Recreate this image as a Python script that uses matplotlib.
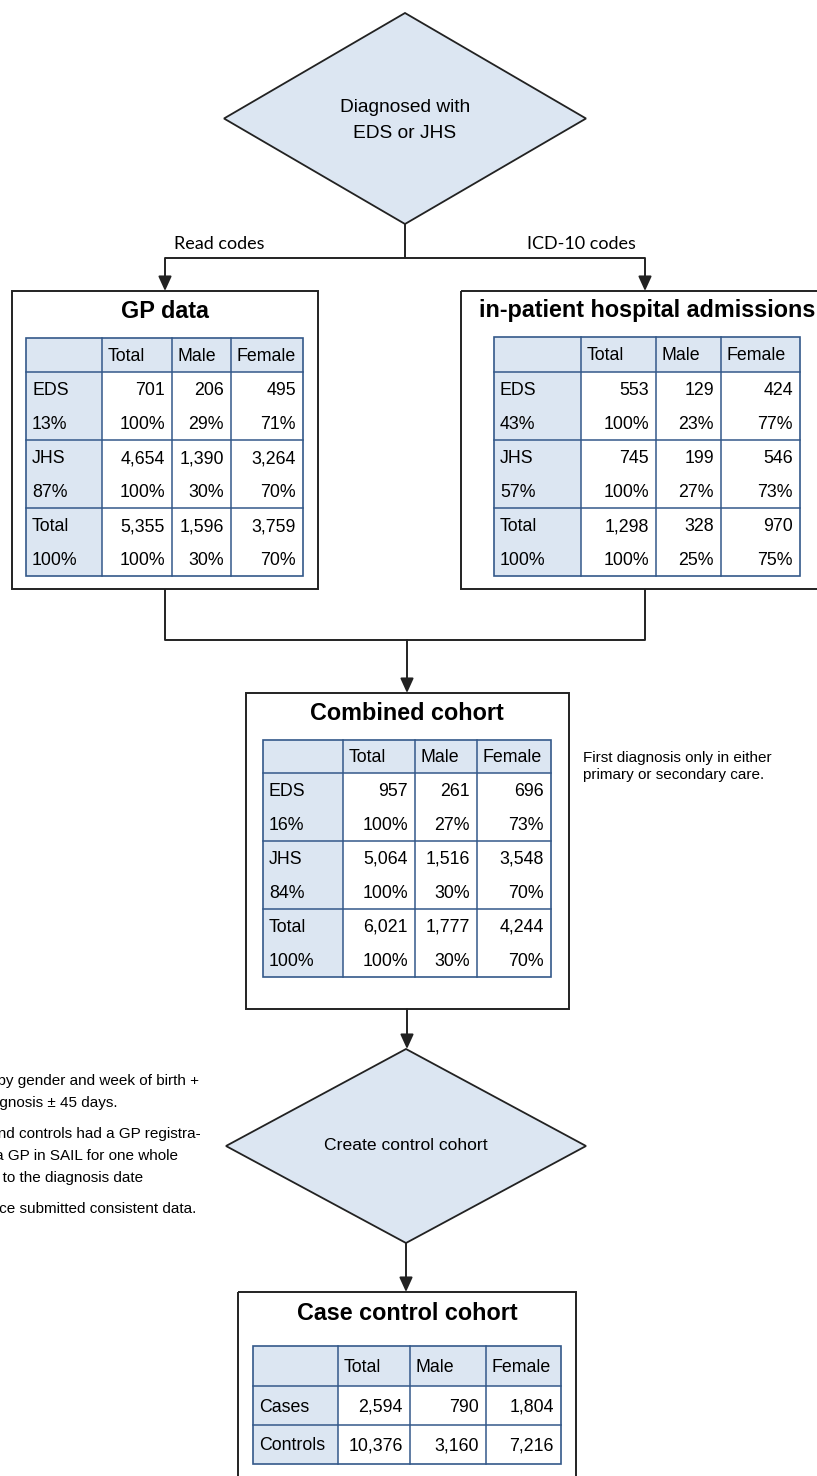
import numpy as np
import matplotlib
matplotlib.use("Agg")
import matplotlib.pyplot as plt
from matplotlib.patches import Rectangle, Polygon

plt.rcParams['font.family'] = ['Liberation Sans', 'DejaVu Sans']

# ---- data ----
col_headers = ["Total", "Male", "Female"]
diag_groups = ["EDS", "JHS", "Total"]

gp_share = [13, 87, 100]
gp_counts = [[701, 206, 495], [4654, 1390, 3264], [5355, 1596, 3759]]
gp_pct = [[100, 29, 71], [100, 30, 70], [100, 30, 70]]

hosp_share = [43, 57, 100]
hosp_counts = [[553, 129, 424], [745, 199, 546], [1298, 328, 970]]
hosp_pct = [[100, 23, 77], [100, 27, 73], [100, 25, 75]]

comb_share = [16, 84, 100]
comb_counts = [[957, 261, 696], [5064, 1516, 3548], [6021, 1777, 4244]]
comb_pct = [[100, 27, 73], [100, 30, 70], [100, 30, 70]]

case_groups = ["Cases", "Controls"]
case_counts = [[2594, 790, 1804], [10376, 3160, 7216]]

side_note = ["First diagnosis only in either", "primary or secondary care."]
match_notes = ["Controls matched by gender and week of birth +",
               "date of diagnosis \u00b1 45 days.",
               "Cases and controls had a GP registra-",
               "tion with a GP in SAIL for one whole",
               "year prior to the diagnosis date",
               "GP practice submitted consistent data."]

FILL = '#dce6f2'
GRID = '#34598a'
EDGE = '#222222'
TFS = 12.8


def stat_rows(share, counts, pct):
    labels, cells = [], []
    for g, s, c, p in zip(diag_groups, share, counts, pct):
        labels += [g, f"{s}%"]
        cells += [[f"{v:,}" for v in c], [f"{v}%" for v in p]]
    return labels, cells


def draw_table(ax, x0, y0, col_w, head_h, row_h, labels, cells, group=2):
    n = len(labels)
    width = sum(col_w)
    height = head_h + n * row_h
    xs = x0 + np.concatenate([[0], np.cumsum(col_w)])
    ax.add_patch(Rectangle((x0, y0), width, head_h, fc=FILL, ec='none'))
    ax.add_patch(Rectangle((x0, y0 + head_h), col_w[0], n * row_h, fc=FILL, ec='none'))
    for x in xs[1:-1]:
        ax.plot([x, x], [y0, y0 + height], color=GRID, lw=1.1)
    ys = [y0 + head_h] + [y0 + head_h + k * group * row_h for k in range(1, n // group)]
    for y in ys:
        ax.plot([x0, x0 + width], [y, y], color=GRID, lw=1.1)
    ax.add_patch(Rectangle((x0, y0), width, height, fill=False, ec=GRID, lw=1.2))
    for j, h in enumerate(col_headers):
        ax.text(xs[j + 1] + 6, y0 + head_h / 2 + 6, h, ha='left', va='baseline', fontsize=TFS)
    for i, (lab, row) in enumerate(zip(labels, cells)):
        yb = y0 + head_h + (i + 0.5) * row_h + 6
        ax.text(x0 + 6, yb, lab, ha='left', va='baseline', fontsize=TFS)
        for j, v in enumerate(row):
            ax.text(xs[j + 2] - 7, yb, v, ha='right', va='baseline', fontsize=TFS)


def box(ax, x, y, w, h, title, tx, ty):
    ax.add_patch(Rectangle((x, y), w, h, fill=False, ec=EDGE, lw=1.4))
    ax.text(tx, ty, title, ha='center', va='center', fontsize=16.8, fontweight='bold')


def diamond(ax, cx, top, bottom, half_w):
    cy = (top + bottom) / 2
    ax.add_patch(Polygon([(cx, top), (cx + half_w, cy), (cx, bottom), (cx - half_w, cy)],
                         closed=True, fc=FILL, ec=EDGE, lw=1.3))


def arrow(ax, x, y1, y2):
    ax.annotate('', xy=(x, y2), xytext=(x, y1),
                arrowprops=dict(arrowstyle='-|>,head_length=0.55,head_width=0.25',
                                mutation_scale=16, lw=1.4, color=EDGE,
                                shrinkA=0, shrinkB=0))


def line(ax, xs, ys):
    ax.plot(xs, ys, color=EDGE, lw=1.4, solid_capstyle='butt')


fig = plt.figure(figsize=(8.17, 14.76), dpi=100)
ax = fig.add_axes([0, 0, 1, 1])
ax.set_xlim(0, 817)
ax.set_ylim(1476, 0)
ax.axis('off')

# top decision
diamond(ax, 405, 13, 224, 181)
ax.text(405, 107, "Diagnosed with", ha='center', va='center', fontsize=13.8)
ax.text(405, 133, "EDS or JHS", ha='center', va='center', fontsize=13.8)
line(ax, [405, 405], [224, 258])
line(ax, [165, 645], [258, 258])
arrow(ax, 165, 258, 291)
arrow(ax, 645, 258, 291)
ax.text(219, 244, "Read codes", ha='center', va='center', fontsize=13, family='Lato')
ax.text(581, 244, "ICD-10 codes", ha='center', va='center', fontsize=13, family='Lato')

# source boxes
box(ax, 12, 291, 306, 298, "GP data", 165, 312)
labels, cells = stat_rows(gp_share, gp_counts, gp_pct)
draw_table(ax, 26, 338, [76, 70, 59, 72], 34, 34, labels, cells)

box(ax, 461, 291, 372, 298, "in-patient hospital admissions", 647, 311)
labels, cells = stat_rows(hosp_share, hosp_counts, hosp_pct)
draw_table(ax, 494, 337, [87, 75, 65, 79], 35, 34, labels, cells)

line(ax, [165, 165, 645, 645], [589, 640, 640, 589])
arrow(ax, 407, 640, 693)

# combined
box(ax, 246, 693, 323, 316, "Combined cohort", 407, 714)
labels, cells = stat_rows(comb_share, comb_counts, comb_pct)
draw_table(ax, 263, 740, [80, 72, 62, 74], 33, 34, labels, cells)
for k, s in enumerate(side_note):
    ax.text(583, 762 + 17 * k, s, ha='left', va='baseline', fontsize=11)

arrow(ax, 407, 1009, 1049)

# control matching
diamond(ax, 406, 1049, 1243, 180)
ax.text(406, 1146, "Create control cohort", ha='center', va='center', fontsize=12.6)
note_y = [1080, 1102, 1133, 1155, 1177, 1208]
note_r = [199, 118, 201, 178, 143, 196]
for s, y, r in zip(match_notes, note_y, note_r):
    ax.text(r, y + 5, s, ha='right', va='baseline', fontsize=11)

arrow(ax, 406, 1243, 1292)

# case control cohort
box(ax, 238, 1292, 338, 250, "Case control cohort", 407, 1313)
case_cells = [[f"{v:,}" for v in row] for row in case_counts]
draw_table(ax, 253, 1346, [85, 72, 76, 75], 40, 39, case_groups, case_cells, group=1)

fig.savefig("out.png", dpi=100)
